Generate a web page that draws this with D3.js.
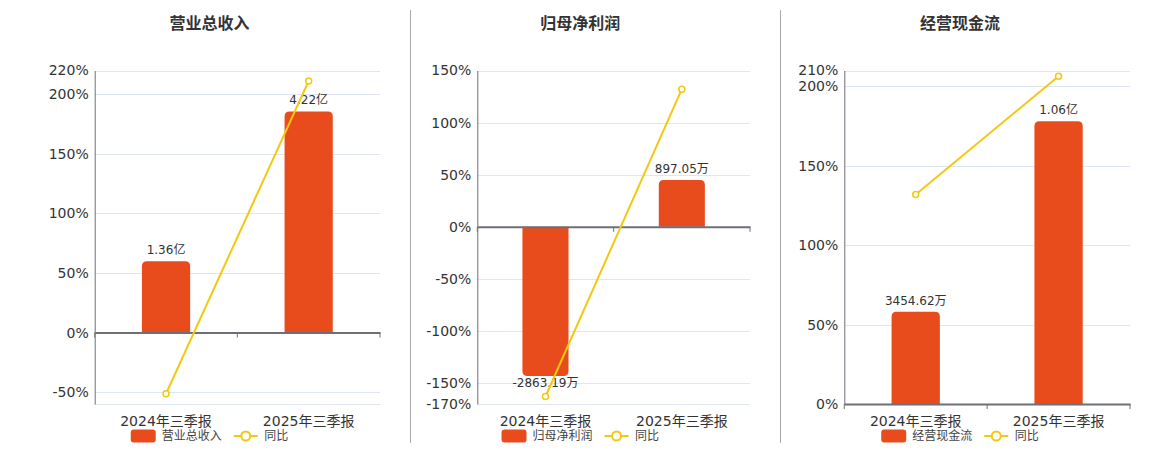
<!DOCTYPE html>
<html><head><meta charset="utf-8">
<script src="https://cdn.jsdelivr.net/npm/d3@7"></script>
<style>body{margin:0;background:#fff} svg{display:block}</style>
</head><body><svg id="c" width="1160" height="450"></svg>
<script>
// ---------- data ----------
const categories = ["2024年三季报", "2025年三季报"];
const chartTitles = ["营业总收入", "归母净利润", "经营现金流"];
const yoyName = "同比";

const revenueValues = [1.36, 4.22];          // 亿
const revenueLabels = ["1.36亿", "4.22亿"];
const revenueYoy = [-51.4, 211.2];           // %
const revenueTicks = [-50, 0, 50, 100, 150, 200, 220];
const revenuePctDomain = [-60, 220];
const revenueBarDomain = [-1.3636, 5];

const profitValues = [-2863.19, 897.05];     // 万
const profitLabels = ["-2863.19万", "897.05万"];
const profitYoy = [-162.8, 132.1];
const profitTicks = [-170, -150, -100, -50, 0, 50, 100, 150];
const profitPctDomain = [-170, 150];
const profitBarDomain = [-3400, 3000];

const cashValues = [3454.62, 10600];         // 万
const cashLabels = ["3454.62万", "1.06亿"];
const cashYoy = [131.9, 206.4];
const cashTicks = [0, 50, 100, 150, 200, 210];
const cashPctDomain = [0, 210];
const cashBarDomain = [0, 12500];

// ---------- layout / style ----------
const FONT = '"DejaVu Sans","Noto Sans CJK SC",sans-serif';
const BAR = "#E84C1D", LINE = "#F2C811", GRID = "#E0E6F1", AXIS = "#6E7079", TXT = "#333";
const plotTop = 70.5, plotBottom = 404;
const panels = [
  {x0: 94.7, x1: 380, cx: 209.5, title: chartTitles[0], vals: revenueValues, labels: revenueLabels, yoy: revenueYoy, ticks: revenueTicks, pd: revenuePctDomain, bd: revenueBarDomain},
  {x0: 477.3, x1: 750, cx: 580.3, title: chartTitles[1], vals: profitValues, labels: profitLabels, yoy: profitYoy, ticks: profitTicks, pd: profitPctDomain, bd: profitBarDomain},
  {x0: 844.3, x1: 1130, cx: 960, title: chartTitles[2], vals: cashValues, labels: cashLabels, yoy: cashYoy, ticks: cashTicks, pd: cashPctDomain, bd: cashBarDomain}
];

const svg = d3.select("#c").style("font-family", FONT);

// separators
[410.5, 780.5].forEach(x => svg.append("line").attr("x1", x).attr("x2", x).attr("y1", 10).attr("y2", 443)
  .attr("stroke", "#aaa").attr("stroke-width", 1));

function barPath(x, w, y0, y1, r) {
  const h = Math.abs(y1 - y0);
  r = Math.min(r, h, w / 2);
  if (y1 <= y0) {
    return `M${x},${y0}V${y1 + r}Q${x},${y1} ${x + r},${y1}H${x + w - r}Q${x + w},${y1} ${x + w},${y1 + r}V${y0}Z`;
  } else {
    return `M${x},${y0}V${y1 - r}Q${x},${y1} ${x + r},${y1}H${x + w - r}Q${x + w},${y1} ${x + w},${y1 - r}V${y0}Z`;
  }
}

panels.forEach(p => {
  const g = svg.append("g");
  const x = d3.scaleBand().domain(categories).range([p.x0, p.x1]).paddingInner(0).paddingOuter(0);
  const yP = d3.scaleLinear().domain(p.pd).range([plotBottom, plotTop]);
  const yB = d3.scaleLinear().domain(p.bd).range([plotBottom, plotTop]);
  const bw = x.bandwidth() * 0.338;
  const cx = c => x(c) + x.bandwidth() / 2;

  g.append("text").attr("x", p.cx).attr("y", 28.5).attr("text-anchor", "middle")
    .attr("font-size", 16).attr("font-weight", "bold").attr("fill", TXT).text(p.title);

  const gridVals = Array.from(new Set([...p.ticks, p.pd[0], p.pd[1]]));
  g.selectAll(".grid").data(gridVals).enter().append("line")
    .attr("x1", p.x0).attr("x2", p.x1)
    .attr("y1", d => Math.round(yP(d)) + 0.5).attr("y2", d => Math.round(yP(d)) + 0.5)
    .attr("stroke", GRID).attr("stroke-width", 1);

  const yAxis = d3.axisLeft(yP).tickValues(p.ticks).tickSize(0).tickPadding(6).tickFormat(d => d + "%");
  const ya = g.append("g").attr("transform", `translate(${p.x0},0)`).call(yAxis);
  ya.select(".domain").attr("stroke", AXIS).attr("stroke-width", 1);
  ya.selectAll("text").attr("font-size", 14).attr("fill", TXT).attr("font-family", FONT);

  g.selectAll(".bar").data(p.vals).enter().append("path")
    .attr("d", (d, i) => barPath(cx(categories[i]) - bw / 2, bw, yB(0), yB(d), 5))
    .attr("fill", BAR);

  const z = yP(0);
  const xa = g.append("g").attr("transform", `translate(0,${z})`)
    .call(d3.axisBottom(x).tickSize(0).tickFormat(""));
  xa.select(".domain").attr("stroke", AXIS).attr("stroke-width", 2);
  const bounds = [p.x0, ...categories.slice(1).map(c => x(c)), p.x1];
  g.selectAll(".xt").data(bounds).enter().append("line")
    .attr("x1", d => d).attr("x2", d => d).attr("y1", z).attr("y2", z + 5)
    .attr("stroke", AXIS).attr("stroke-width", 1);

  g.selectAll(".cl").data(categories).enter().append("text")
    .attr("x", d => cx(d)).attr("y", 425.5)
    .attr("text-anchor", "middle").attr("font-size", 14).attr("fill", TXT).text(d => d);

  g.selectAll(".vl").data(p.vals).enter().append("text")
    .attr("x", (d, i) => cx(categories[i]))
    .attr("y", d => d >= 0 ? yB(d) - 7 : yB(d) + 11)
    .attr("text-anchor", "middle").attr("font-size", 12).attr("fill", TXT)
    .text((d, i) => p.labels[i]);

  const line = d3.line().x((d, i) => cx(categories[i])).y(d => yP(d));
  g.append("path").datum(p.yoy).attr("d", line).attr("fill", "none").attr("stroke", LINE).attr("stroke-width", 2);
  g.selectAll(".pt").data(p.yoy).enter().append("circle")
    .attr("cx", (d, i) => cx(categories[i])).attr("cy", d => yP(d)).attr("r", 3)
    .attr("fill", "#fff").attr("stroke", LINE).attr("stroke-width", 1.5);

  const lg = g.append("g");
  const ly = 436;
  let cur = 0;
  lg.append("rect").attr("x", cur).attr("y", ly - 6.5).attr("width", 25).attr("height", 13).attr("rx", 3).attr("fill", BAR);
  cur += 31;
  const t1 = lg.append("text").attr("x", cur).attr("y", ly + 4.3).attr("font-size", 12).attr("fill", "#444").text(p.title);
  cur += t1.node().getComputedTextLength() + 12;
  lg.append("line").attr("x1", cur).attr("x2", cur + 24).attr("y1", ly).attr("y2", ly).attr("stroke", LINE).attr("stroke-width", 2);
  lg.append("circle").attr("cx", cur + 12).attr("cy", ly).attr("r", 4.5).attr("fill", "#fff").attr("stroke", LINE).attr("stroke-width", 2);
  cur += 30.5;
  const t2 = lg.append("text").attr("x", cur).attr("y", ly + 4.3).attr("font-size", 12).attr("fill", "#444").text(yoyName);
  cur += t2.node().getComputedTextLength();
  lg.attr("transform", `translate(${p.cx - cur / 2},0)`);
});
</script>
</body></html>
